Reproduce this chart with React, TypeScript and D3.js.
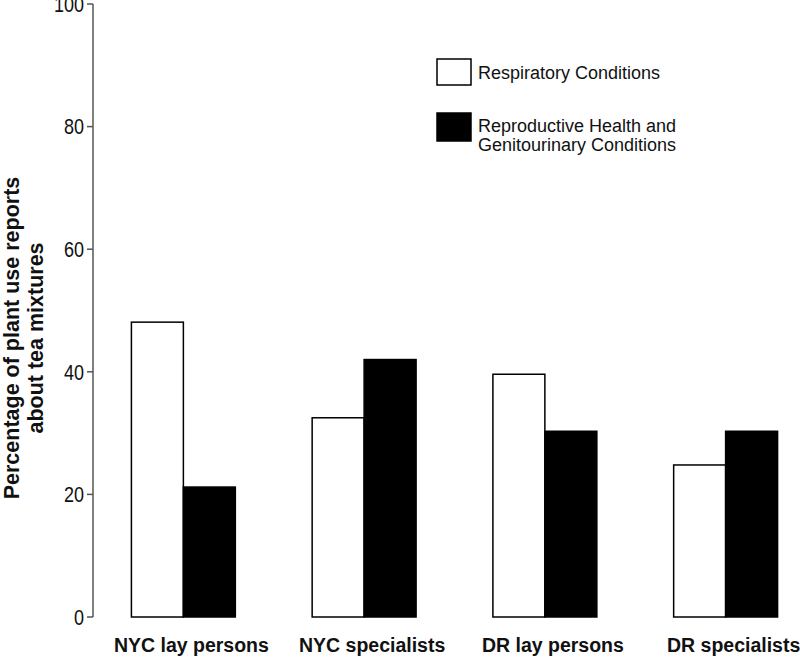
import React from "react";
import * as d3 from "d3";

const categories = ["NYC lay persons", "NYC specialists", "DR lay persons", "DR specialists"];
const seriesNames = ["Respiratory Conditions", "Reproductive Health and Genitourinary Conditions"];
const respiratory = [48.1, 32.5, 39.6, 24.8];
const reproductive = [21.2, 42.0, 30.3, 30.3];
const yTicks = [0, 20, 40, 60, 80, 100];

const W = 800;
const H = 657;

export default function App() {
  const y = d3.scaleLinear().domain([0, 100]).range([617, 4]);
  const x = d3
    .scaleBand<string>()
    .domain(categories)
    .range([93, 816])
    .paddingInner(0.425)
    .paddingOuter(0.2125);
  const sub = d3.scaleBand<number>().domain([0, 1]).range([0, x.bandwidth()]);
  const series = [respiratory, reproductive];
  const fills = ["#ffffff", "#000000"];
  const font = "Arial, 'Liberation Sans', Helvetica, sans-serif";

  return (
    <svg width={W} height={H} style={{ position: "absolute", left: 0, top: 0 }} fontFamily={font}>
      <rect x={0} y={0} width={W} height={H} fill="#fff" />
      {/* y axis */}
      <line x1={93} x2={93} y1={y(100)} y2={y(0)} stroke="#555" strokeWidth={1.5} />
      {yTicks.map((t) => (
        <g key={t}>
          <line x1={87} x2={93} y1={y(t)} y2={y(t)} stroke="#555" strokeWidth={1.5} />
          <text
            transform={`translate(84, ${y(t)}) scale(1, 1.2)`}
            dy="0.36em"
            textAnchor="end"
            fontSize={18}
            fill="#111"
          >
            {t}
          </text>
        </g>
      ))}
      {/* y title */}
      <g transform={`translate(18.5, 338) rotate(-90)`}>
        <text textAnchor="middle" fontSize={21.5} fontWeight="bold" fill="#111">
          Percentage of plant use reports
        </text>
        <text y={24} textAnchor="middle" fontSize={21.5} fontWeight="bold" fill="#111">
          about tea mixtures
        </text>
      </g>
      {/* bars */}
      {categories.map((c, i) => (
        <g key={c} transform={`translate(${x(c)},0)`}>
          {series.map((s, j) => (
            <rect
              key={j}
              x={sub(j)}
              y={y(s[i])}
              width={sub.bandwidth()}
              height={y(0) - y(s[i])}
              fill={fills[j]}
              stroke="#000"
              strokeWidth={1.5}
            />
          ))}
          <text
            x={x.bandwidth() / 2 + 8}
            y={652}
            textAnchor="middle"
            fontSize={19.5}
            fontWeight="bold"
            fill="#111"
          >
            {c}
          </text>
        </g>
      ))}
      {/* legend */}
      <rect x={437} y={59} width={34} height={26} fill="#fff" stroke="#000" strokeWidth={1.5} />
      <text x={478} y={79} fontSize={18} fill="#111">
        {seriesNames[0]}
      </text>
      <rect x={437} y={113} width={34} height={28} fill="#000" stroke="#000" strokeWidth={1.5} />
      <text x={478} y={132} fontSize={18} fill="#111">
        Reproductive Health and
      </text>
      <text x={478} y={151} fontSize={18} fill="#111">
        Genitourinary Conditions
      </text>
    </svg>
  );
}
